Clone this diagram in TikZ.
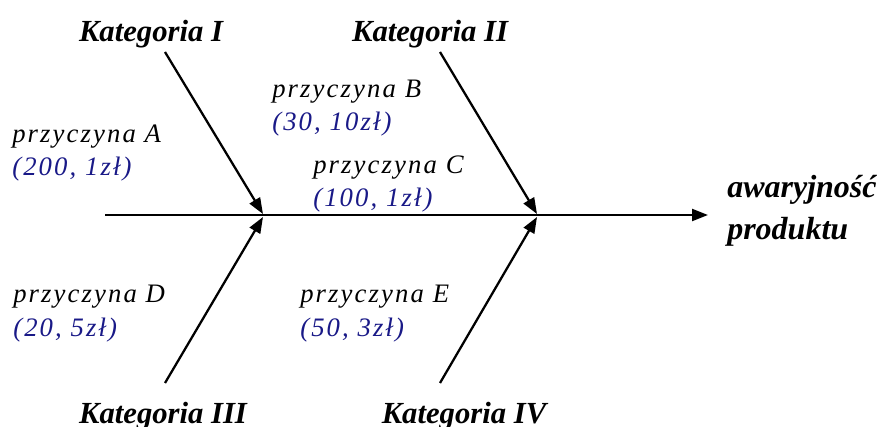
\documentclass[tikz,border=0pt]{standalone}
\usepackage{fontspec}
\setmainfont{Liberation Serif}
\usetikzlibrary{arrows.meta, positioning}
\definecolor{numblue}{RGB}{25,25,135}
\newcommand{\costs}[1]{\textcolor{numblue}{#1}}

\begin{document}
\begin{tikzpicture}[
    x=0.75pt, y=-0.75pt,
    cat/.style={font=\fontsize{23}{26}\selectfont\bfseries\itshape, anchor=base,
                inner sep=0pt},
    effect/.style={font=\fontsize{24}{32}\selectfont\bfseries\itshape,
                   anchor=base west, align=left, inner sep=0pt},
    cause/.style={font=\fontsize{20}{24.75}\selectfont\itshape
                  \addfontfeature{LetterSpace=8},
                  anchor=base west, align=left, inner sep=0pt},
    bone/.style={-{Triangle[length=12pt, width=9pt]}, line width=1.7pt},
]
    \useasboundingbox (0,0) rectangle (877,427);

    %==================== SPINE ====================
    \coordinate (tail) at (105,215);
    \coordinate (head) at (708,215);
    \coordinate (jI) at (263,214);
    \coordinate (jII) at (537,214);
    \coordinate (jIII) at (263,217);
    \coordinate (jIV) at (537,217);
    \draw[bone] (tail) -- (head);

    %==================== EFFECT ====================
    \node[effect] (effect) at (727,240) {awaryjność\\produktu};

    %==================== CATEGORIES ====================
    \node[cat] (katI) at (151,42) {Kategoria I};
    \node[cat] (katII) at (430,42) {Kategoria II};
    \node[cat] (katIII) at (163,423) {Kategoria III};
    \node[cat] (katIV) at (464,423) {Kategoria IV};

    \coordinate (sI) at (165,52);
    \coordinate (sII) at (440,52);
    \coordinate (sIII) at (165,383);
    \coordinate (sIV) at (440,383);

    \draw[bone] (sI) -- (jI);
    \draw[bone] (sII) -- (jII);
    \draw[bone] (sIII) -- (jIII);
    \draw[bone] (sIV) -- (jIV);

    %==================== CAUSES ====================
    \node[cause] (causeA) at (12,176) {przyczyna A\\\costs{(200, 1zł)}};
    \node[cause] (causeB) at (272,131) {przyczyna B\\\costs{(30, 10zł)}};
    \node[cause] (causeC) at (313,207) {przyczyna C\\\costs{(100, 1zł)}};
    \node[cause] (causeD) at (13,336) {przyczyna D\\\costs{(20, 5zł)}};
    \node[cause] (causeE) at (300,336) {przyczyna E\\\costs{(50, 3zł)}};

\end{tikzpicture}
\end{document}
